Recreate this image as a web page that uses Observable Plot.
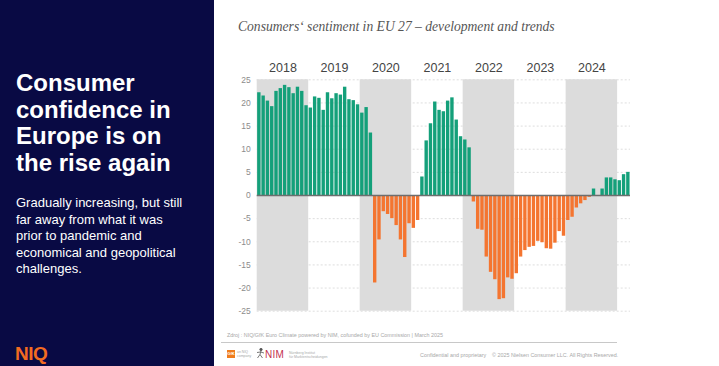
<!DOCTYPE html>
<html>
<head>
<meta charset="utf-8">
<script src="https://cdn.jsdelivr.net/npm/d3@7"></script>
<script src="https://cdn.jsdelivr.net/npm/@observablehq/plot@0.6"></script>
<style>
  html, body { margin: 0; padding: 0; width: 719px; height: 366px; overflow: hidden; background: #fff; }
  body { position: relative; font-family: "Liberation Sans", Arial, sans-serif; }
  #panel { position: absolute; left: 0; top: 0; width: 214px; height: 366px; background: #090a44; }
  #headline { position: absolute; left: 16px; top: 70px; margin: 0; color: #fff; font-weight: bold; font-size: 24px; line-height: 26.5px; }
  #body { position: absolute; left: 16px; top: 195px; width: 195px; margin: 0; color: #fff; font-size: 13px; line-height: 16.5px; white-space: nowrap; }
  #niq { position: absolute; left: 15px; top: 344px; color: #f26b21; font-weight: bold; font-size: 19px; line-height: 20px; letter-spacing: -0.5px; }
  #title { position: absolute; left: 238px; top: 19px; font-family: "Liberation Serif", "Times New Roman", serif; font-style: italic; font-size: 13.6px; color: #555; white-space: nowrap; }
  #chart { position: absolute; left: 215px; top: 50px; }
  .tiny { position: absolute; font-size: 5.4px; color: #a8a8a8; white-space: nowrap; }
  #rule { position: absolute; left: 221px; top: 342px; width: 396px; height: 1px; background: #c8c8c8; }
  #gfk { position: absolute; left: 227px; top: 350px; width: 8px; height: 8px; background: #f07c1c; color: #fff; font-size: 4px; line-height: 8px; text-align: center; font-weight: bold; }
  #nim { position: absolute; left: 265px; top: 349px; font-size: 10px; color: #c4304f; letter-spacing: 0.2px; }
</style>
</head>
<body>
<div id="panel"></div>
<p id="headline">Consumer<br>confidence in<br>Europe is on<br>the rise again</p>
<p id="body">Gradually increasing, but still<br>far away from what it was<br>prior to pandemic and<br>economical and geopolitical<br>challenges.</p>
<div id="niq">NIQ</div>
<div id="title">Consumers‘ sentiment in EU 27 – development and trends</div>
<div id="chart"></div>
<div class="tiny" style="left:227px; top:332px;">Zdroj : NIQ/GfK Euro Climate powered by NIM, cofunded by EU Commission | March 2025</div>
<div id="rule"></div>
<div id="gfk">GfK</div>
<div class="tiny" style="left:237px; top:350px; font-size:3.5px; line-height:4px;">an NIQ<br>company</div>
<svg style="position:absolute; left:256px; top:348px;" width="9" height="11" viewBox="0 0 9 11"><g stroke="#555" stroke-width="0.8" fill="none"><circle cx="5" cy="1.5" r="1.2" fill="#555"/><path d="M5 3 L4 6.5 L1.5 10 M4 6.5 L6.5 10 M1 4.5 L4.5 4 L8 5"/></g></svg>
<div id="nim">NIM</div>
<div class="tiny" style="left:289px; top:351px; font-size:3.5px; line-height:4px;">Nürnberg Institut<br>für Marktentscheidungen</div>
<div class="tiny" style="left:420px; top:352px;">Confidential and proprietary</div>
<div class="tiny" style="left:492px; top:352px;">© 2025 Nielsen Consumer LLC. All Rights Reserved.</div>
<script>
// Monthly values (Euro Climate, EU 27)
const years = [2018, 2019, 2020, 2021, 2022, 2023, 2024];
const v2018 = [22.2, 21.5, 20.4, 19.2, 22.5, 23.1, 23.8, 23.3, 22.0, 23.4, 22.5, 19.4];
const v2019 = [18.9, 21.3, 21.0, 18.4, 22.2, 20.9, 22.0, 21.7, 23.4, 20.7, 20.5, 19.6];
const v2020 = [17.8, 19.0, 13.5, -18.9, -9.6, -3.5, -4.1, -5.0, -6.5, -9.6, -13.4, -6.1];
const v2021 = [-7.1, -5.4, 4.0, 11.8, 15.5, 20.2, 18.4, 18.1, 20.4, 21.1, 16.3, 12.7];
const v2022 = [12.0, 10.3, -1.4, -7.3, -7.5, -13.3, -16.6, -18.2, -22.5, -22.3, -17.8, -18.1];
const v2023 = [-16.9, -13.3, -11.9, -11.2, -11.0, -9.9, -10.2, -11.5, -11.6, -10.3, -7.8, -8.8];
const v2024 = [-5.4, -4.7, -2.7, -1.8, -1.1, -0.4, 1.4, 0, 1.4, 3.8, 3.8, 3.4];
const v2025 = [3.2, 4.5, 5.0];
const yTicks = [25, 20, 15, 10, 5, 0, -5, -10, -15, -20, -25];

const series = [v2018, v2019, v2020, v2021, v2022, v2023, v2024, v2025];
const data = series.flat().map((v, i) => ({i, v}));
const shaded = years.filter((y, k) => k % 2 === 0);

const green = "#14a07a";
const orange = "#f47530";

const chart = Plot.plot({
  width: 430,
  height: 266,
  marginLeft: 41.7,
  marginRight: 15,
  marginTop: 29.3,
  marginBottom: 5.3,
  style: {fontFamily: "'Liberation Sans', Arial, sans-serif", background: "transparent"},
  x: {domain: [0, 87], axis: null},
  y: {domain: [-25, 25], axis: null, label: null},
  marks: [
    Plot.ruleY(yTicks.filter(t => t !== 0), {x1: 0, x2: 87, stroke: "#d6d6d6", strokeDasharray: "2,2", strokeWidth: 0.8}),
    Plot.rect(shaded, {x1: y => (y - 2018) * 12, x2: y => (y - 2018) * 12 + 12, y1: -25, y2: 25, fill: "#dcdcdc"}),
    Plot.rect(data, {x1: "i", x2: d => d.i + 1, y1: 0, y2: "v", fill: d => d.v >= 0 ? green : orange, insetLeft: 0.45, insetRight: 0.45}),
    Plot.ruleY([0], {x1: 0, x2: 87, stroke: "#6e6e6e", strokeWidth: 1.5}),
    Plot.axisY({ticks: yTicks, tickSize: 0, tickPadding: 6.5, fontSize: 8.5, fill: "#8c8c8c", label: null, tickFormat: d => String(d)}),
    Plot.text(years, {x: y => (y - 2018) * 12 + 6, y: 25, text: d => String(d), dy: -12, fontSize: 12.5, fill: "#444"})
  ]
});
document.getElementById("chart").appendChild(chart);
</script>
</body>
</html>
